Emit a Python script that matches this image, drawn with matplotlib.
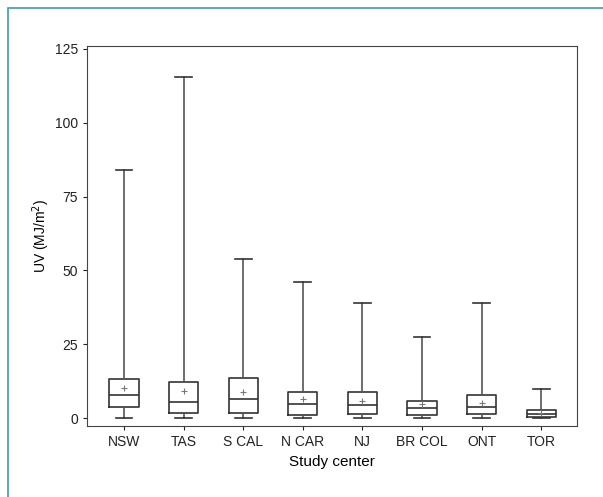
import matplotlib
matplotlib.use('Agg')
import matplotlib.pyplot as plt
from matplotlib.patches import Rectangle

plt.rcParams['font.family'] = ['Liberation Sans', 'DejaVu Sans']

centers = ['NSW', 'TAS', 'S CAL', 'N CAR', 'NJ', 'BR COL', 'ONT', 'TOR']
low = [0, 0, 0, 0, 0, 0, 0, 0]
q1 = [3.7, 1.7, 1.7, 1.0, 1.3, 1.0, 1.3, 0.3]
median = [7.7, 5.4, 6.4, 4.7, 4.4, 3.4, 3.7, 1.3]
q3 = [13.1, 12.1, 13.5, 8.8, 8.8, 5.7, 7.7, 2.7]
high = [84, 115.5, 54, 46, 39, 27.5, 39, 9.8]
mean = [10.1, 9.1, 8.8, 6.4, 5.7, 4.7, 5.1, 1.7]

stats = []
for i in range(len(centers)):
    stats.append({'label': centers[i], 'whislo': low[i], 'q1': q1[i],
                  'med': median[i], 'q3': q3[i], 'whishi': high[i],
                  'mean': mean[i], 'fliers': []})

fig = plt.figure(figsize=(6.03, 4.97), dpi=100)
ax = fig.add_axes([0.1443, 0.1429, 0.8127, 0.7645])

line = dict(color='#333333', linewidth=1.2)
ax.bxp(stats, widths=0.49, showmeans=True, showfliers=False,
       capwidths=0.28,
       boxprops=line, whiskerprops=dict(color='#555555', linewidth=1.2),
       capprops=line, medianprops=line,
       meanprops=dict(marker='+', markeredgecolor='#777777',
                      markersize=4, markeredgewidth=0.8))

ax.set_xlim(0.38, 8.6)
ax.set_ylim(-2.7, 126)
ax.set_yticks([0, 25, 50, 75, 100, 125])
ax.tick_params(labelsize=10, length=3, colors='#222222')
for s in ax.spines.values():
    s.set_color('#444444')
ax.set_ylabel('UV (MJ/m$^2$)', fontsize=10, labelpad=2)
ax.set_xlabel('Study center', fontsize=11)

# teal frame around the figure
fig.patches.append(Rectangle((8 / 603, -0.1), 1.2, 1 - 8 / 497 + 0.1,
                             transform=fig.transFigure, fill=False,
                             edgecolor='#3a9fa8', linewidth=1.2))

fig.savefig('out.png', dpi=100)
